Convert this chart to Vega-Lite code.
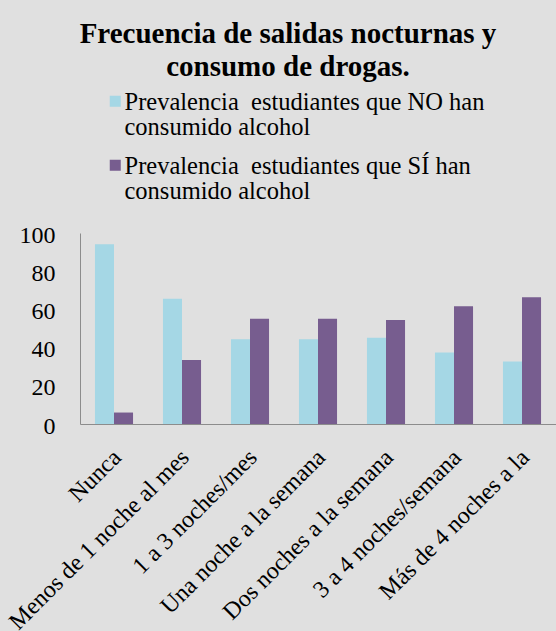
{
  "$schema": "https://vega.github.io/schema/vega-lite/v6.json",
  "width": 476,
  "height": 191,
  "autosize": {"type": "none"},
  "padding": {"left": 80, "top": 233, "right": 0, "bottom": 207},
  "background": "#e0e0e0",
  "title": {
    "text": ["Frecuencia de salidas nocturnas y", "consumo de drogas."],
    "font": "Liberation Serif, Times New Roman, serif",
    "fontSize": 29,
    "fontWeight": "bold",
    "color": "#000000",
    "anchor": "middle",
    "frame": "group",
    "dx": -30,
    "lineHeight": 33,
    "offset": 7
  },
  "data": {
    "values": [
      {"frecuencia": "Nunca", "grupo": "NO", "valor": 94.1},
      {"frecuencia": "Nunca", "grupo": "SÍ", "valor": 6.0},
      {"frecuencia": "Menos de 1 noche al mes", "grupo": "NO", "valor": 65.6},
      {"frecuencia": "Menos de 1 noche al mes", "grupo": "SÍ", "valor": 33.5},
      {"frecuencia": "1 a 3 noches/mes", "grupo": "NO", "valor": 44.4},
      {"frecuencia": "1 a 3 noches/mes", "grupo": "SÍ", "valor": 55.1},
      {"frecuencia": "Una noche a la semana", "grupo": "NO", "valor": 44.4},
      {"frecuencia": "Una noche a la semana", "grupo": "SÍ", "valor": 55.1},
      {"frecuencia": "Dos noches a la semana", "grupo": "NO", "valor": 45.1},
      {"frecuencia": "Dos noches a la semana", "grupo": "SÍ", "valor": 54.4},
      {"frecuencia": "3 a 4 noches/semana", "grupo": "NO", "valor": 37.5},
      {"frecuencia": "3 a 4 noches/semana", "grupo": "SÍ", "valor": 61.6},
      {"frecuencia": "Más de 4 noches a la", "grupo": "NO", "valor": 32.7},
      {"frecuencia": "Más de 4 noches a la", "grupo": "SÍ", "valor": 66.3}
    ]
  },
  "mark": {"type": "bar"},
  "encoding": {
    "x": {
      "field": "frecuencia",
      "type": "nominal",
      "sort": null,
      "scale": {"paddingInner": 0.44, "paddingOuter": 0.22},
      "axis": {
        "title": null,
        "labelAngle": -45,
        "labelFont": "Liberation Serif, Times New Roman, serif",
        "labelFontSize": 24,
        "labelColor": "#000000",
        "labelLimit": 400,
        "labelPadding": 21,
        "labelOffset": -5,
        "ticks": false,
        "domainColor": "#8c8c8c",
        "labelOverlap": false
      }
    },
    "xOffset": {
      "field": "grupo",
      "type": "nominal",
      "sort": ["NO", "SÍ"],
      "scale": {"paddingInner": 0, "paddingOuter": 0}
    },
    "y": {
      "field": "valor",
      "type": "quantitative",
      "scale": {"domain": [0, 100], "nice": false},
      "axis": {
        "title": null,
        "values": [0, 20, 40, 60, 80, 100],
        "grid": false,
        "ticks": false,
        "labelFont": "Liberation Serif, Times New Roman, serif",
        "labelFontSize": 24,
        "labelColor": "#000000",
        "labelPadding": 25,
        "labelOffset": 2,
        "labelFlush": false,
        "labelOverlap": false,
        "domainColor": "#8c8c8c"
      }
    },
    "color": {
      "field": "grupo",
      "type": "nominal",
      "sort": ["NO", "SÍ"],
      "scale": {"domain": ["NO", "SÍ"], "range": ["#a5d7e5", "#775d8f"]},
      "legend": {
        "title": null,
        "orient": "none",
        "legendX": 23,
        "legendY": -144,
        "padding": 0,
        "symbolType": "square",
        "symbolSize": 121,
        "symbolStrokeWidth": 0,
        "labelOffset": -3,
        "labelFont": "Liberation Serif, Times New Roman, serif",
        "labelFontSize": 24.5,
        "labelColor": "#000000",
        "labelLimit": 1000,
        "rowPadding": 13,
        "labelExpr": "datum.label == 'NO' ? ['Prevalencia\u00a0 estudiantes que NO han', 'consumido alcohol'] : ['Prevalencia\u00a0 estudiantes que SÍ han', 'consumido alcohol']",
        "encode": {"labels": {"update": {"lineHeight": {"value": 25}, "dy": {"value": 2}}}}
      }
    }
  },
  "config": {"view": {"stroke": null}}
}
